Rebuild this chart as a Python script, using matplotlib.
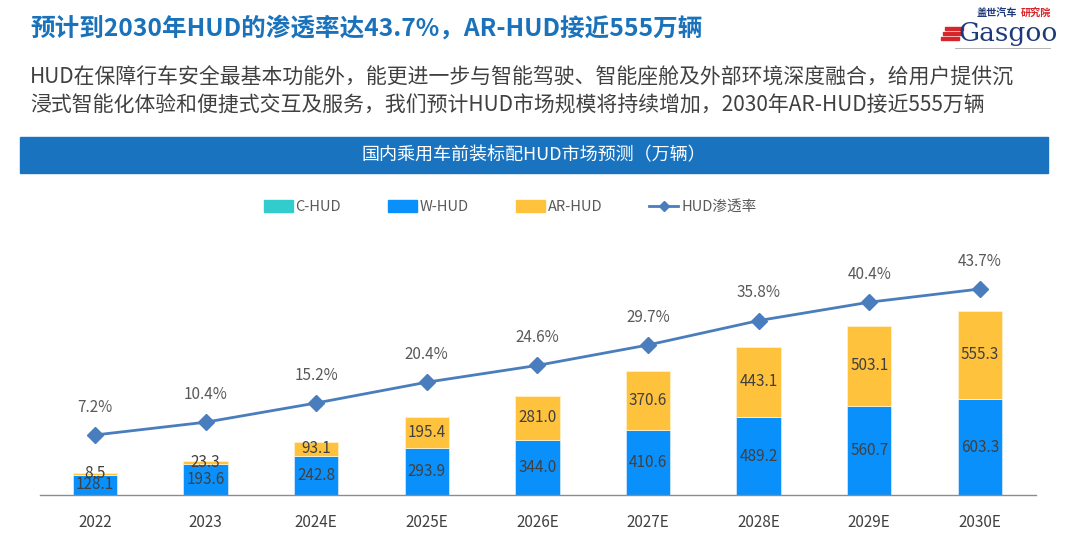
import numpy as np
import matplotlib
matplotlib.use("Agg")
import matplotlib.pyplot as plt
from matplotlib.patches import Rectangle, Patch
from matplotlib.lines import Line2D

plt.rcParams['font.family'] = ['Noto Sans CJK SC', 'DejaVu Sans']

# data
years = ['2022', '2023', '2024E', '2025E', '2026E', '2027E', '2028E', '2029E', '2030E']
c_hud = [0, 0, 0, 0, 0, 0, 0, 0, 0]
w_hud = [128.1, 193.6, 242.8, 293.9, 344.0, 410.6, 489.2, 560.7, 603.3]
ar_hud = [8.5, 23.3, 93.1, 195.4, 281.0, 370.6, 443.1, 503.1, 555.3]
rate = [7.2, 10.4, 15.2, 20.4, 24.6, 29.7, 35.8, 40.4, 43.7]

title = '预计到2030年HUD的渗透率达43.7%，AR-HUD接近555万辆'
para1 = 'HUD在保障行车安全最基本功能外，能更进一步与智能驾驶、智能座舱及外部环境深度融合，给用户提供沉'
para2 = '浸式智能化体验和便捷式交互及服务，我们预计HUD市场规模将持续增加，2030年AR-HUD接近555万辆'
banner = '国内乘用车前装标配HUD市场预测（万辆）'

c_teal = '#33cccc'
c_blue = '#0a90fa'
c_yellow = '#ffc23c'
c_line = '#4a7dbd'
txt = '#404040'

W, H = 1080, 539
fig = plt.figure(figsize=(W / 100, H / 100), dpi=100)

def fx(px):
    return px / W

def fy(py):
    return 1 - py / H

# header
fig.text(fx(30), fy(28), title, fontsize=17.7, fontweight='bold', color='#1a72bb',
         va='center', ha='left')
fig.text(fx(30), fy(78), para1, fontsize=15, color=txt, va='center', ha='left')
fig.text(fx(30), fy(106), para2, fontsize=15, color=txt, va='center', ha='left')

# logo (simplified)
fig.text(fx(977), fy(13), '盖世汽车', fontsize=7.3, fontweight='bold', color='#1f3a7a',
         va='center', ha='left')
fig.text(fx(1021), fy(13), '研究院', fontsize=7.3, fontweight='bold', color='#d7262b',
         va='center', ha='left')
fig.text(fx(958), fy(33), 'Gasgoo', fontsize=19, color='#1f3a7a', va='center', ha='left',
         family='DejaVu Serif')
for k in range(3):
    fig.patches.append(Rectangle((fx(945 - k * 2), fy(30 + k * 5)), fx(18), 2.5 / H,
                                 transform=fig.transFigure, color='#d7262b'))
fig.add_artist(Line2D([fx(955), fx(1050)], [fy(48), fy(48)], color='#aaaaaa', lw=0.6))

# banner
fig.patches.append(Rectangle((fx(20), fy(173)), fx(1028), 36 / H,
                             transform=fig.transFigure, color='#1a73bf', zorder=1))
fig.text(fx(534), fy(155), banner, fontsize=13, color='white', va='center', ha='center',
         zorder=2)

# chart
ax = fig.add_axes([fx(40), fy(495), fx(996), (495 - 230) / H])
x = np.arange(len(years))
bw = 0.40
ax.bar(x, c_hud, bw, color=c_teal, zorder=2)
ax.bar(x, w_hud, bw, bottom=c_hud, color=c_blue, edgecolor='#cfe6ff', linewidth=0.6, zorder=2)
base2 = np.array(c_hud) + np.array(w_hud)
ax.bar(x, ar_hud, bw, bottom=base2, color=c_yellow, edgecolor='#fff0c8', linewidth=0.6, zorder=2)

for i in range(len(years)):
    ax.text(x[i], c_hud[i] + w_hud[i] / 2, f'{w_hud[i]:.1f}', ha='center', va='center',
            fontsize=11, color=txt, zorder=3)
    ax.text(x[i], base2[i] + ar_hud[i] / 2, f'{ar_hud[i]:.1f}', ha='center', va='center',
            fontsize=11, color=txt, zorder=3)

ax.set_xlim(-0.497, 8.508)
ax.set_ylim(0, 265 / 0.159)
ax.set_yticks([])
ax.set_xticks(x)
ax.set_xticklabels(years, fontsize=11, color=txt)
ax.tick_params(axis='x', length=0, pad=14)
for s in ['top', 'left', 'right']:
    ax.spines[s].set_visible(False)
ax.spines['bottom'].set_color('#8c8c8c')
ax.spines['bottom'].set_linewidth(1.0)
ax.patch.set_alpha(0)

ax2 = ax.twinx()
ax2.plot(x, rate, color=c_line, lw=2.0, marker='D', markersize=8, zorder=4)
for i in range(len(years)):
    ax2.annotate(f'{rate[i]:.1f}%', (x[i], rate[i]), xytext=(0, 20), textcoords='offset points',
                 ha='center', va='center', fontsize=11, color='#595959')
ax2.set_ylim(-7.8, -7.8 + 265 / 4.0)
ax2.set_yticks([])
for s in ['top', 'left', 'right', 'bottom']:
    ax2.spines[s].set_visible(False)

handles = [Patch(color=c_teal, label='C-HUD'),
           Patch(color=c_blue, label='W-HUD'),
           Patch(color=c_yellow, label='AR-HUD'),
           Line2D([0], [0], color=c_line, lw=2, marker='D', markersize=5, label='HUD渗透率')]
fig.legend(handles=handles, loc='center', bbox_to_anchor=(fx(510), fy(207)), ncol=4,
           frameon=False, fontsize=10.5, labelcolor='#595959', handlelength=2.0,
           handleheight=0.8, handletextpad=0.2, columnspacing=3.2)

fig.savefig('out.png', dpi=100)
